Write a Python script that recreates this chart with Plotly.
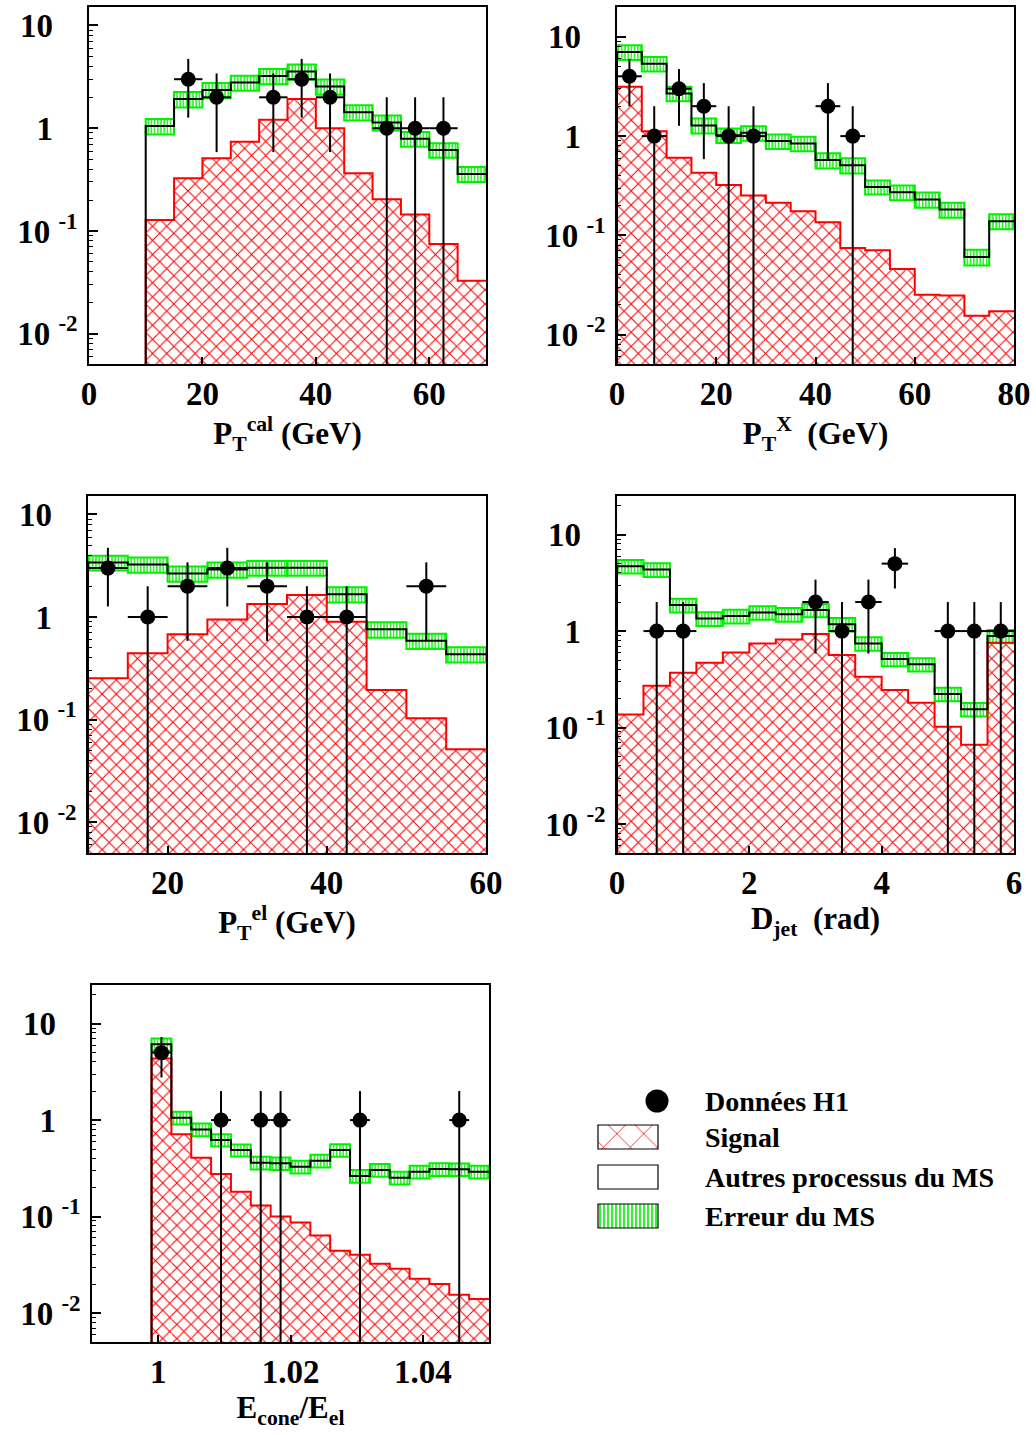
import numpy as np
import plotly.graph_objects as go

# ---------------- data ----------------
# Panel 1 : P_T^cal (GeV), bins of 5 GeV starting at 10 GeV
p1_lo, p1_w = 10.0, 5.0
p1_sig = [0.128, 0.326, 0.51, 0.74, 1.21, 1.92, 1.0, 0.365, 0.203, 0.145, 0.0747, 0.0328]
p1_bkg = [1.05, 1.92, 2.36, 2.78, 3.23, 3.56, 2.55, 1.43, 1.14, 0.79, 0.615, 0.359]
p1_err = [0.18, 0.33, 0.40, 0.47, 0.55, 0.60, 0.43, 0.24, 0.19, 0.13, 0.10, 0.06]
p1_dx = [17.5, 22.5, 32.5, 37.5, 42.5, 52.5, 57.5, 62.5]
p1_dn = [3, 2, 2, 3, 2, 1, 1, 1]

# Panel 2 : P_T^X (GeV), bins of 5 GeV starting at 0
p2_lo, p2_w = 0.0, 5.0
p2_sig = [3.14, 1.12, 0.605, 0.427, 0.321, 0.252, 0.213, 0.175, 0.136, 0.0748,
          0.0708, 0.0459, 0.0253, 0.0248, 0.0155, 0.0172]
p2_bkg = [7.03, 5.36, 2.69, 1.28, 1.02, 1.08, 0.89, 0.843, 0.573, 0.51,
          0.308, 0.272, 0.23, 0.182, 0.0607, 0.139]
p2_err = [1.2, 0.9, 0.45, 0.22, 0.17, 0.18, 0.15, 0.14, 0.10, 0.09,
          0.05, 0.046, 0.04, 0.031, 0.011, 0.024]
p2_dx = [2.5, 7.5, 12.5, 17.5, 22.5, 27.5, 42.5, 47.5]
p2_dn = [4, 1, 3, 2, 1, 1, 2, 1]

# Panel 3 : P_T^el (GeV), bins of 5 GeV starting at 10 GeV
p3_lo, p3_w = 10.0, 5.0
p3_sig = [0.253, 0.443, 0.678, 0.949, 1.34, 1.64, 0.90, 0.195, 0.103, 0.0515]
p3_bkg = [3.40, 3.25, 2.66, 2.91, 3.02, 3.02, 1.67, 0.759, 0.589, 0.434]
p3_err = [0.55, 0.55, 0.45, 0.50, 0.50, 0.50, 0.28, 0.13, 0.10, 0.074]
p3_dx = [12.5, 17.5, 22.5, 27.5, 32.5, 37.5, 42.5, 52.5]
p3_dn = [3, 1, 2, 3, 2, 1, 1, 2]

# Panel 4 : D_jet (rad), bins of 0.4 rad starting at 0
p4_lo, p4_w = 0.0, 0.4
p4_sig = [0.137, 0.272, 0.371, 0.47, 0.601, 0.745, 0.82, 0.931, 0.565, 0.337,
          0.245, 0.181, 0.102, 0.0662, 0.757]
p4_bkg = [4.70, 4.34, 1.86, 1.35, 1.43, 1.56, 1.49, 1.65, 1.18, 0.745,
          0.513, 0.452, 0.223, 0.155, 0.888]
p4_err = [0.75, 0.70, 0.30, 0.22, 0.23, 0.25, 0.24, 0.26, 0.19, 0.12,
          0.08, 0.07, 0.036, 0.025, 0.14]
p4_dx = [0.6, 1.0, 3.0, 3.4, 3.8, 4.2, 5.0, 5.4, 5.8]
p4_dn = [1, 1, 2, 1, 2, 5, 1, 1, 1]

# Panel 5 : E_cone/E_el, bins of 0.003 starting at 0.999
p5_lo, p5_w = 0.999, 0.003
p5_sig = [4.34, 0.711, 0.408, 0.276, 0.181, 0.13, 0.10, 0.0867, 0.0636, 0.0441,
          0.0401, 0.0324, 0.0287, 0.0227, 0.020, 0.0155, 0.014]
p5_bkg = [6.11, 1.06, 0.80, 0.621, 0.489, 0.362, 0.356, 0.329, 0.38, 0.489,
          0.264, 0.304, 0.253, 0.292, 0.311, 0.309, 0.292]
p5_err = [0.9, 0.16, 0.12, 0.09, 0.07, 0.055, 0.053, 0.05, 0.057, 0.073,
          0.04, 0.046, 0.038, 0.044, 0.047, 0.046, 0.044]
p5_dx = [1.0005, 1.0095, 1.0155, 1.0185, 1.0305, 1.0455]
p5_dn = [5, 1, 1, 1, 1, 1]

x_titles = ["P<sub>T</sub><sup>cal</sup> (GeV)", "P<sub>T</sub><sup>X</sup>  (GeV)",
            "P<sub>T</sub><sup>el</sup> (GeV)", "D<sub>jet</sub>  (rad)",
            "E<sub>cone</sub>/E<sub>el</sub>"]
x_ticks = [[0, 20, 40, 60], [0, 20, 40, 60, 80], [20, 40, 60], [0, 2, 4, 6], [1, 1.02, 1.04]]
x_ticktext = [["0", "20", "40", "60"], ["0", "20", "40", "60", "80"], ["20", "40", "60"],
              ["0", "2", "4", "6"], ["1", "1.02", "1.04"]]
y_tickvals = [0.01, 0.1, 1, 10]
y_ticktext = ["10&nbsp;<sup>-2</sup>", "10&nbsp;<sup>-1</sup>",
              "1&nbsp;&nbsp;&nbsp;", "10&nbsp;&nbsp;&nbsp;"]

legend_labels = ["Données H1", "Signal", "Autres processus du MS", "Erreur du MS"]

# ---------------- layout geometry (pixels) ----------------
W, H = 1036, 1435
# (left, right, top, bottom) of each frame, x range, log10 y range
panels = [
    dict(px=(89, 486, 7, 364), xr=(0, 70), yr=(-2.295, 1.18),
         lo=p1_lo, w=p1_w, sig=p1_sig, bkg=p1_bkg, err=p1_err, dx=p1_dx, dn=p1_dn),
    dict(px=(617, 1014, 7, 364), xr=(0, 80), yr=(-2.295, 1.30),
         lo=p2_lo, w=p2_w, sig=p2_sig, bkg=p2_bkg, err=p2_err, dx=p2_dx, dn=p2_dn),
    dict(px=(88, 486, 496, 853), xr=(10, 60), yr=(-2.30, 1.18),
         lo=p3_lo, w=p3_w, sig=p3_sig, bkg=p3_bkg, err=p3_err, dx=p3_dx, dn=p3_dn),
    dict(px=(617, 1014, 496, 853), xr=(0, 6), yr=(-2.30, 1.40),
         lo=p4_lo, w=p4_w, sig=p4_sig, bkg=p4_bkg, err=p4_err, dx=p4_dx, dn=p4_dn),
    dict(px=(92, 489, 985, 1342), xr=(0.99, 1.05), yr=(-2.30, 1.40),
         lo=p5_lo, w=p5_w, sig=p5_sig, bkg=p5_bkg, err=p5_err, dx=p5_dx, dn=p5_dn),
]

FONT = "Liberation Serif"
RED = "#ff0000"
GREEN = "#00f000"

fig = go.Figure()
layout = dict(
    width=W, height=H, margin=dict(l=0, r=0, t=0, b=0),
    paper_bgcolor="white", plot_bgcolor="white", template="none",
    showlegend=False, barmode="overlay",
    font=dict(family=FONT, color="black", size=30, weight="bold"),
)

minor_vals = [k * 10.0 ** e for e in range(-3, 2) for k in range(2, 10)]

for i, p in enumerate(panels, start=1):
    xa = "x" if i == 1 else f"x{i}"
    ya = "y" if i == 1 else f"y{i}"
    l, r, t, b = p["px"]
    floor = 10 ** p["yr"][0]
    sig = np.array(p["sig"])
    bkg = np.array(p["bkg"])
    err = np.array(p["err"])
    n = len(sig)
    edges = p["lo"] + p["w"] * np.arange(n + 1)
    centers = edges[:-1] + p["w"] / 2

    # signal : red cross-hatched histogram
    fig.add_trace(go.Bar(
        x=centers, y=sig, width=p["w"], xaxis=xa, yaxis=ya,
        marker=dict(color="white", line=dict(width=0),
                    pattern=dict(shape="x", fgcolor=RED, bgcolor="white", size=10, solidity=0.2)),
        hoverinfo="skip"))
    # MS error band : green boxes with vertical hatching
    fig.add_trace(go.Bar(
        x=centers, y=2 * err, base=bkg - err, width=p["w"], xaxis=xa, yaxis=ya,
        marker=dict(color="white", line=dict(width=2, color=GREEN),
                    pattern=dict(shape="|", fgcolor=GREEN, bgcolor="white", size=3.2, solidity=0.4)),
        hoverinfo="skip"))
    # signal outline
    fig.add_trace(go.Scatter(
        x=np.concatenate([[edges[0]], edges]), y=np.concatenate([[floor], sig, [sig[-1]]]),
        mode="lines", line=dict(color=RED, width=2, shape="hv"), xaxis=xa, yaxis=ya,
        hoverinfo="skip"))
    # other SM processes
    fig.add_trace(go.Scatter(
        x=np.concatenate([[edges[0]], edges]), y=np.concatenate([[floor], bkg, [bkg[-1]]]),
        mode="lines", line=dict(color="black", width=2, shape="hv"), xaxis=xa, yaxis=ya,
        hoverinfo="skip"))
    # H1 data
    dn = np.array(p["dn"], dtype=float)
    se = np.sqrt(dn)
    low = np.maximum(dn - se, floor)
    fig.add_trace(go.Scatter(
        x=p["dx"], y=dn, mode="markers", xaxis=xa, yaxis=ya,
        marker=dict(color="black", size=15, symbol="circle"),
        error_y=dict(type="data", array=se, arrayminus=dn - low, color="black", thickness=2, width=0),
        error_x=dict(type="constant", value=p["w"] / 2, color="black", thickness=2, width=0),
        hoverinfo="skip"))

    axis_common = dict(showline=True, mirror=True, linecolor="black", linewidth=1.5,
                       showgrid=False, zeroline=False, ticks="inside", tickcolor="black",
                       automargin=False)
    layout["xaxis" if i == 1 else f"xaxis{i}"] = dict(
        axis_common, domain=[l / W, r / W], range=list(p["xr"]), anchor=ya,
        tickmode="array", tickvals=x_ticks[i - 1], ticktext=x_ticktext[i - 1],
        ticklen=7, tickwidth=1.5, ticklabelstandoff=0,
        tickfont=dict(size=33, family=FONT, weight="bold"),
        title=dict(text=x_titles[i - 1], font=dict(size=31, family=FONT, weight="bold"), standoff=5))
    layout["yaxis" if i == 1 else f"yaxis{i}"] = dict(
        axis_common, domain=[(H - b) / H, (H - t) / H], type="log", range=list(p["yr"]), anchor=xa,
        tickmode="array", tickvals=y_tickvals, ticktext=y_ticktext,
        ticklen=9, tickwidth=1.5, ticklabelstandoff=3,
        tickfont=dict(size=33, family=FONT, weight="bold"),
        minor=dict(ticks="inside", ticklen=4, tickwidth=1, tickcolor="black",
                   tickmode="array", tickvals=minor_vals, showgrid=False))

# ---------------- legend (own invisible axis, units = pixels) ----------------
lx0, lx1, ly0, ly1 = 590, 1030, 1080, 1240
layout["xaxis6"] = dict(domain=[lx0 / W, lx1 / W], range=[lx0, lx1], visible=False, anchor="y6")
layout["yaxis6"] = dict(domain=[(H - ly1) / H, (H - ly0) / H], range=[H - ly1, H - ly0],
                        visible=False, anchor="x6")
row_y = [H - 1101, H - 1137, H - 1177, H - 1216]
box_h = 24
fig.add_trace(go.Scatter(x=[657], y=[row_y[0]], mode="markers", xaxis="x6", yaxis="y6",
                         marker=dict(color="black", size=23), hoverinfo="skip"))
fig.add_trace(go.Bar(x=[628], y=[box_h], base=[row_y[1] - box_h / 2], width=[60], xaxis="x6", yaxis="y6",
                     marker=dict(color="white", line=dict(width=1.2, color="black"),
                                 pattern=dict(shape="x", fgcolor=RED, bgcolor="white", size=19, solidity=0.08)),
                     hoverinfo="skip"))
fig.add_trace(go.Bar(x=[628], y=[box_h], base=[row_y[2] - box_h / 2], width=[60], xaxis="x6", yaxis="y6",
                     marker=dict(color="white", line=dict(width=1.2, color="black")), hoverinfo="skip"))
fig.add_trace(go.Bar(x=[628], y=[box_h], base=[row_y[3] - box_h / 2], width=[60], xaxis="x6", yaxis="y6",
                     marker=dict(color="white", line=dict(width=1.2, color="black"),
                                 pattern=dict(shape="|", fgcolor=GREEN, bgcolor="white", size=4, solidity=0.4)),
                     hoverinfo="skip"))
annotations = []
for lab, yy in zip(legend_labels, row_y):
    annotations.append(dict(x=703, y=yy, xref="x6", yref="y6", text=lab, showarrow=False,
                            xanchor="left", yanchor="middle",
                            font=dict(size=28, family=FONT, weight="bold", color="black")))
layout["annotations"] = annotations

fig.update_layout(**layout)
fig.write_html("out.html", config={"displayModeBar": False},
               post_script="document.body.style.margin='0';")
